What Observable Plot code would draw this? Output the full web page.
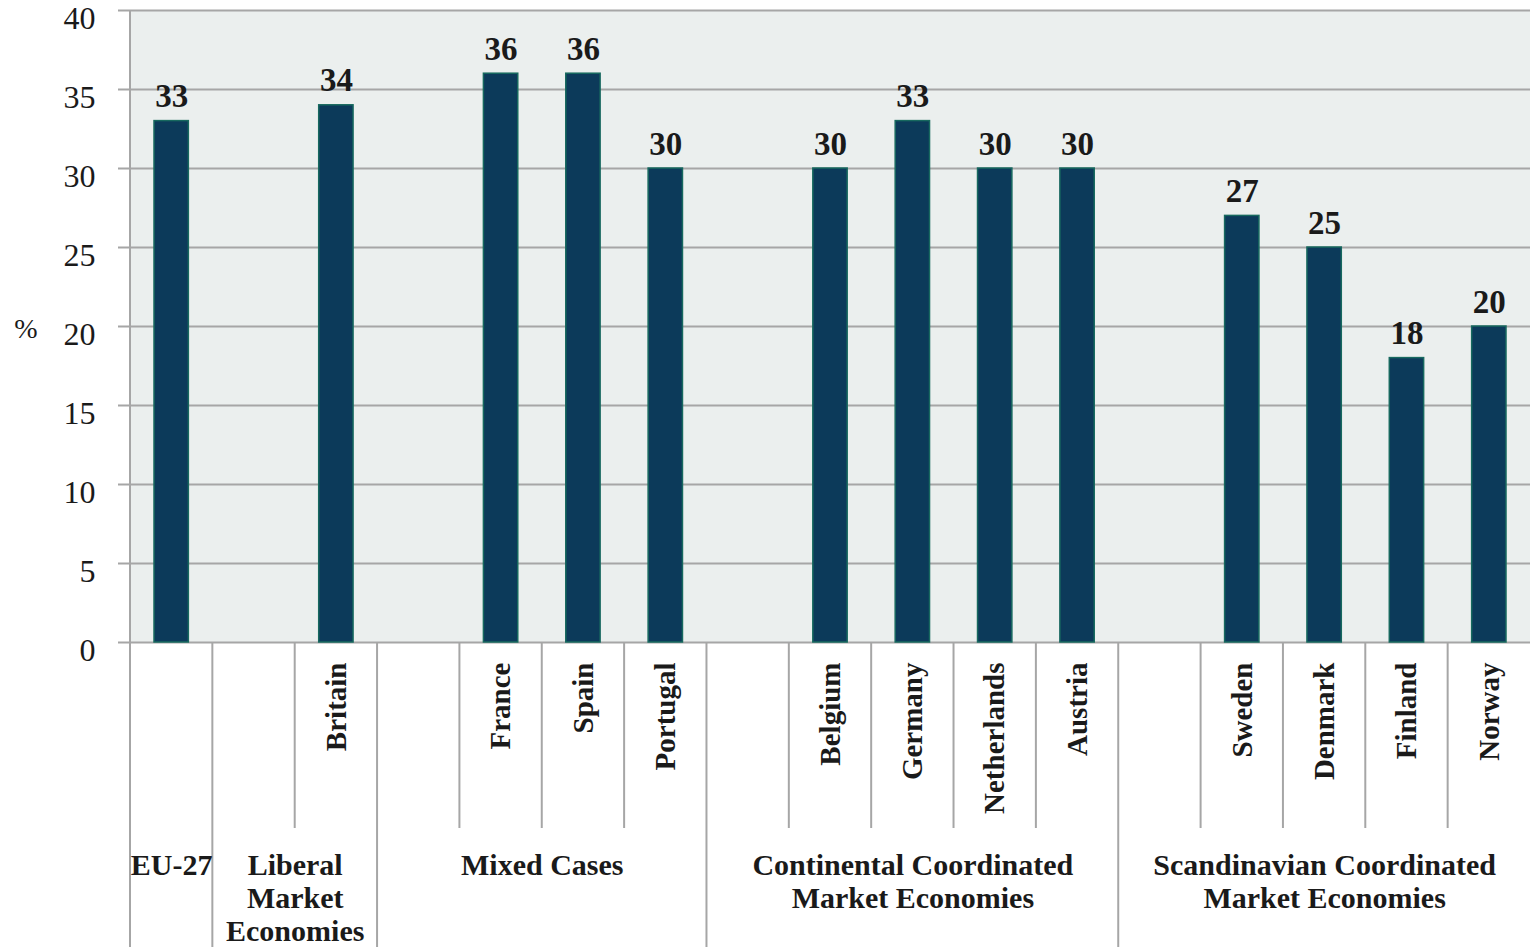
<!DOCTYPE html>
<html>
<head>
<meta charset="utf-8">
<script src="https://cdn.jsdelivr.net/npm/d3@7"></script>
<script src="https://cdn.jsdelivr.net/npm/@observablehq/plot@0.6"></script>
<style>
  html, body { margin: 0; padding: 0; background: #ffffff; }
  #chart svg { display: block; }
</style>
</head>
<body>
<div id="chart"></div>
<script>
// Column slots along the x axis; empty strings are spacer columns between groups.
const slots = ["EU-27", "", "Britain", "", "France", "Spain", "Portugal", "",
  "Belgium", "Germany", "Netherlands", "Austria", "",
  "Sweden", "Denmark", "Finland", "Norway"];

// Bar values (%), one per country.
const countries = ["EU-27", "Britain", "France", "Spain", "Portugal",
  "Belgium", "Germany", "Netherlands", "Austria",
  "Sweden", "Denmark", "Finland", "Norway"];
const shares = [33, 34, 36, 36, 30, 30, 33, 30, 30, 27, 25, 18, 20];

// Country groupings shown beneath the rotated names.
const groupNames = ["EU-27", "Liberal\nMarket\nEconomies", "Mixed Cases",
  "Continental Coordinated\nMarket Economies", "Scandinavian Coordinated\nMarket Economies"];
const groupFirstSlot = [0, 1, 3, 7, 12];

const yTicks = [0, 5, 10, 15, 20, 25, 30, 35, 40];

const nSlots = slots.length;
const bars = countries.map((c, k) => ({name: c, value: shares[k], slot: slots.indexOf(c)}));
const names = slots.map((s, i) => ({name: s, slot: i})).filter(d => d.name && d.name !== "EU-27");
const groups = groupNames.map((g, k) => ({
  name: g,
  start: groupFirstSlot[k],
  end: k + 1 < groupFirstSlot.length ? groupFirstSlot[k + 1] : nSlots
}));

const GRID = "#a6a6a6";
const INK = "#1a1a1a";
const FONT = "'Liberation Serif', 'DejaVu Serif', serif";

// Separator lines of the category table under the axis.
function tableLines(index, scales, values, dims) {
  const g = d3.create("svg:g");
  const y0 = scales.y(0);
  const yTop = scales.y(40);
  const yShort = y0 + 186;
  const yBottom = dims.height;
  // Left axis line runs the full height
  g.append("line")
    .attr("x1", scales.x(0)).attr("x2", scales.x(0))
    .attr("y1", yTop).attr("y2", yBottom)
    .attr("stroke", GRID).attr("stroke-width", 2);
  for (let b = 1; b < nSlots; b++) {
    const long = groupFirstSlot.includes(b);
    g.append("line")
      .attr("x1", scales.x(b)).attr("x2", scales.x(b))
      .attr("y1", y0).attr("y2", long ? yBottom : yShort)
      .attr("stroke", GRID).attr("stroke-width", 2);
  }
  // Unit label beside the y axis
  g.append("text")
    .attr("x", 26).attr("y", (y0 + yTop) / 2 + 12)
    .attr("text-anchor", "middle")
    .attr("font-family", FONT).attr("font-size", 28)
    .attr("fill", INK)
    .text("%");
  return g.node();
}

const plot = Plot.plot({
  width: 1530,
  height: 947,
  marginLeft: 130,
  marginRight: 0,
  marginTop: 10,
  marginBottom: 305,
  style: {fontFamily: FONT, color: INK, background: "#ffffff"},
  x: {type: "linear", domain: [0, nSlots], axis: null},
  y: {domain: [0, 40], axis: null},
  marks: [
    Plot.frame({fill: "#ebefee", stroke: "none"}),
    Plot.ruleY(yTicks, {stroke: GRID, strokeWidth: 2, insetLeft: -12}),
    Plot.axisY(yTicks, {
      tickSize: 0, tickPadding: 35, fontSize: 32, fill: INK, dy: 8,
      tickFormat: d => String(d), label: null
    }),
    tableLines,
    Plot.rectY(bars, {
      x1: "slot", x2: d => d.slot + 1, y: "value",
      insetLeft: 24, insetRight: 24,
      fill: "#0c3a5a", stroke: "#17695f", strokeWidth: 1.5
    }),
    Plot.text(bars, {
      x: d => d.slot + 0.5, y: "value", text: d => String(d.value),
      lineAnchor: "bottom", dy: -14, fontSize: 33, fontWeight: "bold", fill: INK
    }),
    Plot.text(names, {
      x: d => d.slot + 0.5, y: () => 0, text: "name",
      rotate: -90, textAnchor: "end", lineAnchor: "middle",
      dy: 20, fontSize: 29, fontWeight: "bold", fill: INK
    }),
    Plot.text(groups, {
      x: d => (d.start + d.end) / 2, y: () => 0, text: "name",
      lineAnchor: "top", dy: 209, lineHeight: 1.1,
      fontSize: 30, fontWeight: "bold", fill: INK
    })
  ]
});

document.getElementById("chart").appendChild(plot);
</script>
</body>
</html>
